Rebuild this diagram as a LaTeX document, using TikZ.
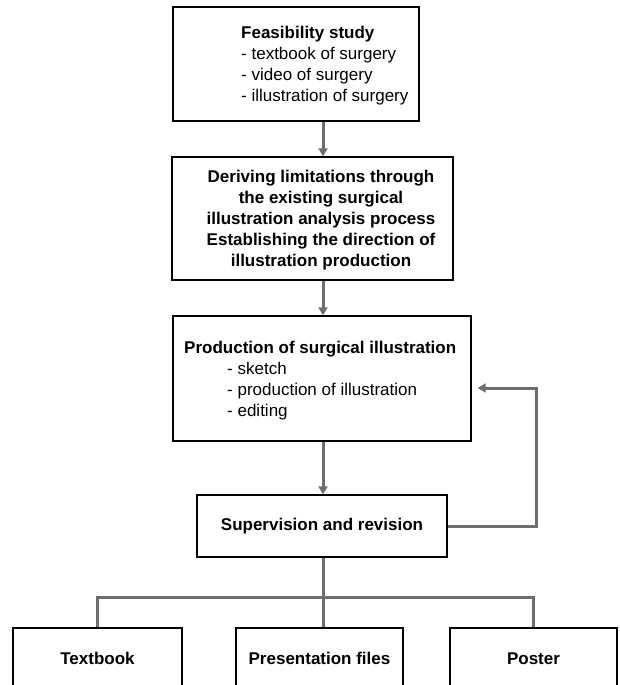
\documentclass[tikz,border=0pt]{standalone}
\usepackage{fontspec}
\setmainfont{Liberation Sans}
\usetikzlibrary{arrows.meta}
\definecolor{linegray}{HTML}{6E6E6E}
\begin{document}
\begin{tikzpicture}[x=1pt, y=-1pt,
	box/.style={draw=black, line width=1.3pt, rectangle, inner sep=0pt},
	txt/.style={font=\fontsize{17}{21}\selectfont, inner sep=0pt},
	bold/.style={font=\fontsize{17}{21}\selectfont\bfseries, inner sep=0pt, text height=12pt, text depth=3.5pt},
	link/.style={line width=3pt, draw=linegray},
	arr/.style={link, -{Triangle[length=8pt, width=9pt]}}]
		\useasboundingbox (0,0) rectangle (619,685);
		\clip (0,0) rectangle (619,685);
		%Boxes
		\node[box, minimum width=246pt, minimum height=114pt] (feas) at (296,64) {};
		\node[box, minimum width=281pt, minimum height=123pt] (limit) at (312.5,218.5) {};
		\node[box, minimum width=298pt, minimum height=125pt] (prod) at (322,378.5) {};
		\node[box, bold, minimum width=250pt, minimum height=62pt] (superv) at (322,526) {Supervision and revision};
		\node[box, bold, minimum width=169pt, minimum height=64pt] (textbook) at (97.5,660) {Textbook};
		\node[box, bold, minimum width=167pt, minimum height=64pt] (present) at (319.5,660) {Presentation files};
		\node[box, bold, minimum width=167pt, minimum height=64pt] (poster) at (533.5,660) {Poster};
		%Texts
		\node[txt, align=left, anchor=west] (feastext) at (241,66) {\textbf{Feasibility study}\\- textbook of surgery\\- video of surgery\\- illustration of surgery};
		\node[bold, align=center, text height=, text depth=] (limittext) at (321,220) {Deriving limitations through\\the existing surgical\\illustration analysis process\\Establishing the direction of\\illustration production};
		\node[txt, align=left, anchor=west] (prodtext) at (184,381) {\textbf{Production of surgical illustration}\\\hspace*{43pt}- sketch\\\hspace*{43pt}- production of illustration\\\hspace*{43pt}- editing};
		%Arrows
		\coordinate (spine) at (323,0);
		\draw[arr] (feas.south -| spine) -- (limit.north -| spine);
		\draw[arr] (limit.south -| spine) -- (prod.north -| spine);
		\draw[arr] (prod.south -| spine) -- (superv.north -| spine);
		\coordinate (back) at (536,388);
		\draw[arr, shorten >=6pt] (superv.east) -| (back) -- (prod.east |- back);
		%Outputs
		\coordinate (split) at (323,597);
		\draw[link] (superv.south -| spine) -- (present.north -| spine);
		\draw[link] (textbook.north) |- (split) -| (poster.north);
\end{tikzpicture}
\end{document}
